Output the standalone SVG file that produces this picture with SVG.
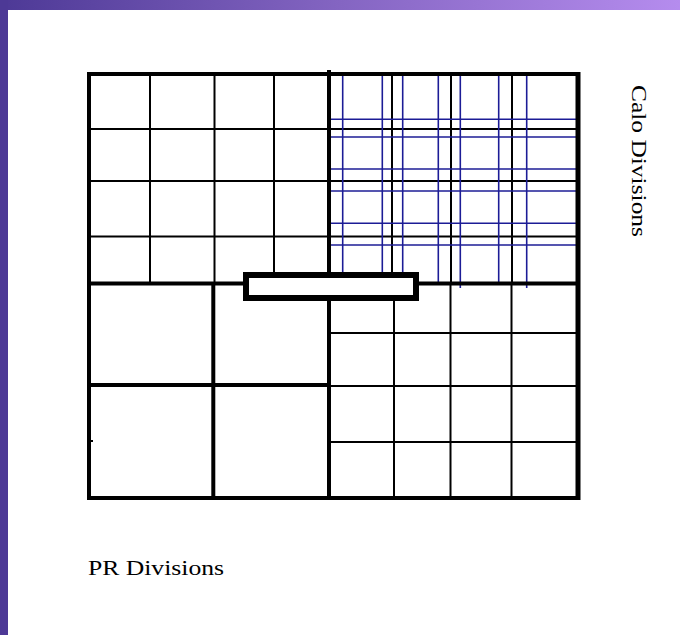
<svg xmlns="http://www.w3.org/2000/svg" width="680" height="635" viewBox="0 0 680 635">
  <defs>
    <linearGradient id="topGrad" x1="0" y1="0" x2="1" y2="0">
      <stop offset="0" stop-color="#4d3996"/>
      <stop offset="0.5" stop-color="#8465c2"/>
      <stop offset="1" stop-color="#b58cee"/>
    </linearGradient>
  </defs>
  <style>
    .thin { stroke: #000; stroke-width: 2; fill: none; }
    .thick { stroke: #000; stroke-width: 4; fill: none; }
    .blue { stroke: #1c1c96; stroke-width: 1.6; fill: none; }
    .label { font-family: "Liberation Serif", "Times New Roman", serif; font-size: 21px; fill: #000; }
  </style>
  <rect x="0" y="0" width="680" height="635" fill="#ffffff"/>
  <g id="slide-border">
    <rect x="0" y="0" width="680" height="10" fill="url(#topGrad)"/>
    <rect x="0" y="0" width="8" height="635" fill="#4d3996"/>
  </g>

  <g id="connectors">
    <!-- top-left quadrant thin grid -->
    <g id="pr-grid-top-left">
      <line class="thin" x1="150" y1="74" x2="150" y2="283"/>
      <line class="thin" x1="214.5" y1="74" x2="214.5" y2="283"/>
      <line class="thin" x1="274" y1="74" x2="274" y2="280"/>
      <line class="thin" x1="89" y1="129" x2="329" y2="129"/>
      <line class="thin" x1="89" y1="181" x2="329" y2="181"/>
      <line class="thin" x1="89" y1="236.5" x2="329" y2="236.5"/>
    </g>
    <!-- top-right quadrant black grid -->
    <g id="pr-grid-top-right">
      <line class="thin" x1="392" y1="74" x2="392" y2="279"/>
      <line class="thin" x1="451" y1="74" x2="451" y2="284"/>
      <line class="thin" x1="512" y1="74" x2="512" y2="284"/>
      <line class="thin" x1="329" y1="129" x2="578" y2="129"/>
      <line class="thin" x1="329" y1="181" x2="578" y2="181"/>
      <line class="thin" x1="329" y1="236.5" x2="578" y2="236.5"/>
    </g>
    <!-- calo divisions (blue) -->
    <g id="calo-grid">
      <line class="blue" x1="342.7" y1="75" x2="342.7" y2="277"/>
      <line class="blue" x1="382.3" y1="75" x2="382.3" y2="277"/>
      <line class="blue" x1="402.7" y1="75" x2="402.7" y2="277"/>
      <line class="blue" x1="438.3" y1="75" x2="438.3" y2="282"/>
      <line class="blue" x1="460.3" y1="75" x2="460.3" y2="288"/>
      <line class="blue" x1="498.7" y1="75" x2="498.7" y2="282"/>
      <line class="blue" x1="526.7" y1="75" x2="526.7" y2="288"/>
      <line class="blue" x1="331" y1="119.3" x2="577" y2="119.3"/>
      <line class="blue" x1="331" y1="137" x2="577" y2="137"/>
      <line class="blue" x1="331" y1="169" x2="577" y2="169"/>
      <line class="blue" x1="331" y1="191" x2="577" y2="191"/>
      <line class="blue" x1="331" y1="223.3" x2="577" y2="223.3"/>
      <line class="blue" x1="331" y1="245" x2="577" y2="245"/>
    </g>
    <!-- bottom-right quadrant thin grid -->
    <g id="pr-grid-bottom-right">
      <line class="thin" x1="394" y1="299" x2="394" y2="498"/>
      <line class="thin" x1="450.5" y1="284" x2="450.5" y2="498"/>
      <line class="thin" x1="511.5" y1="284" x2="511.5" y2="498"/>
      <line class="thin" x1="329" y1="333" x2="578" y2="333"/>
      <line class="thin" x1="329" y1="386" x2="578" y2="386"/>
      <line class="thin" x1="329" y1="442" x2="578" y2="442"/>
    </g>
    <!-- thick divisions -->
    <g id="pr-thick">
      <line class="thick" x1="329" y1="70" x2="329" y2="498"/>
      <line class="thick" x1="89" y1="283.5" x2="578" y2="283.5"/>
      <line class="thick" x1="89" y1="385" x2="329" y2="385"/>
      <line class="thick" x1="213.3" y1="283.5" x2="213.3" y2="498"/>
      <line class="thin" x1="89" y1="441" x2="93" y2="441" stroke-width="1.5"/>
    </g>
    <g id="frame">
      <rect class="thick" x="89" y="74" width="489" height="424"/>
      <line x1="578" y1="72" x2="578" y2="500" stroke="#000" stroke-width="5"/>
    </g>
  </g>

  <g id="center-rect">
    <rect x="246" y="275" width="170" height="23" fill="#ffffff" stroke="#000" stroke-width="6"/>
  </g>

  <g id="label-calo">
    <text class="label" transform="translate(632,85) rotate(90)" textLength="152" lengthAdjust="spacingAndGlyphs">Calo Divisions</text>
  </g>
  <g id="label-pr">
    <text class="label" x="88" y="575" textLength="136" lengthAdjust="spacingAndGlyphs">PR Divisions</text>
  </g>
</svg>
